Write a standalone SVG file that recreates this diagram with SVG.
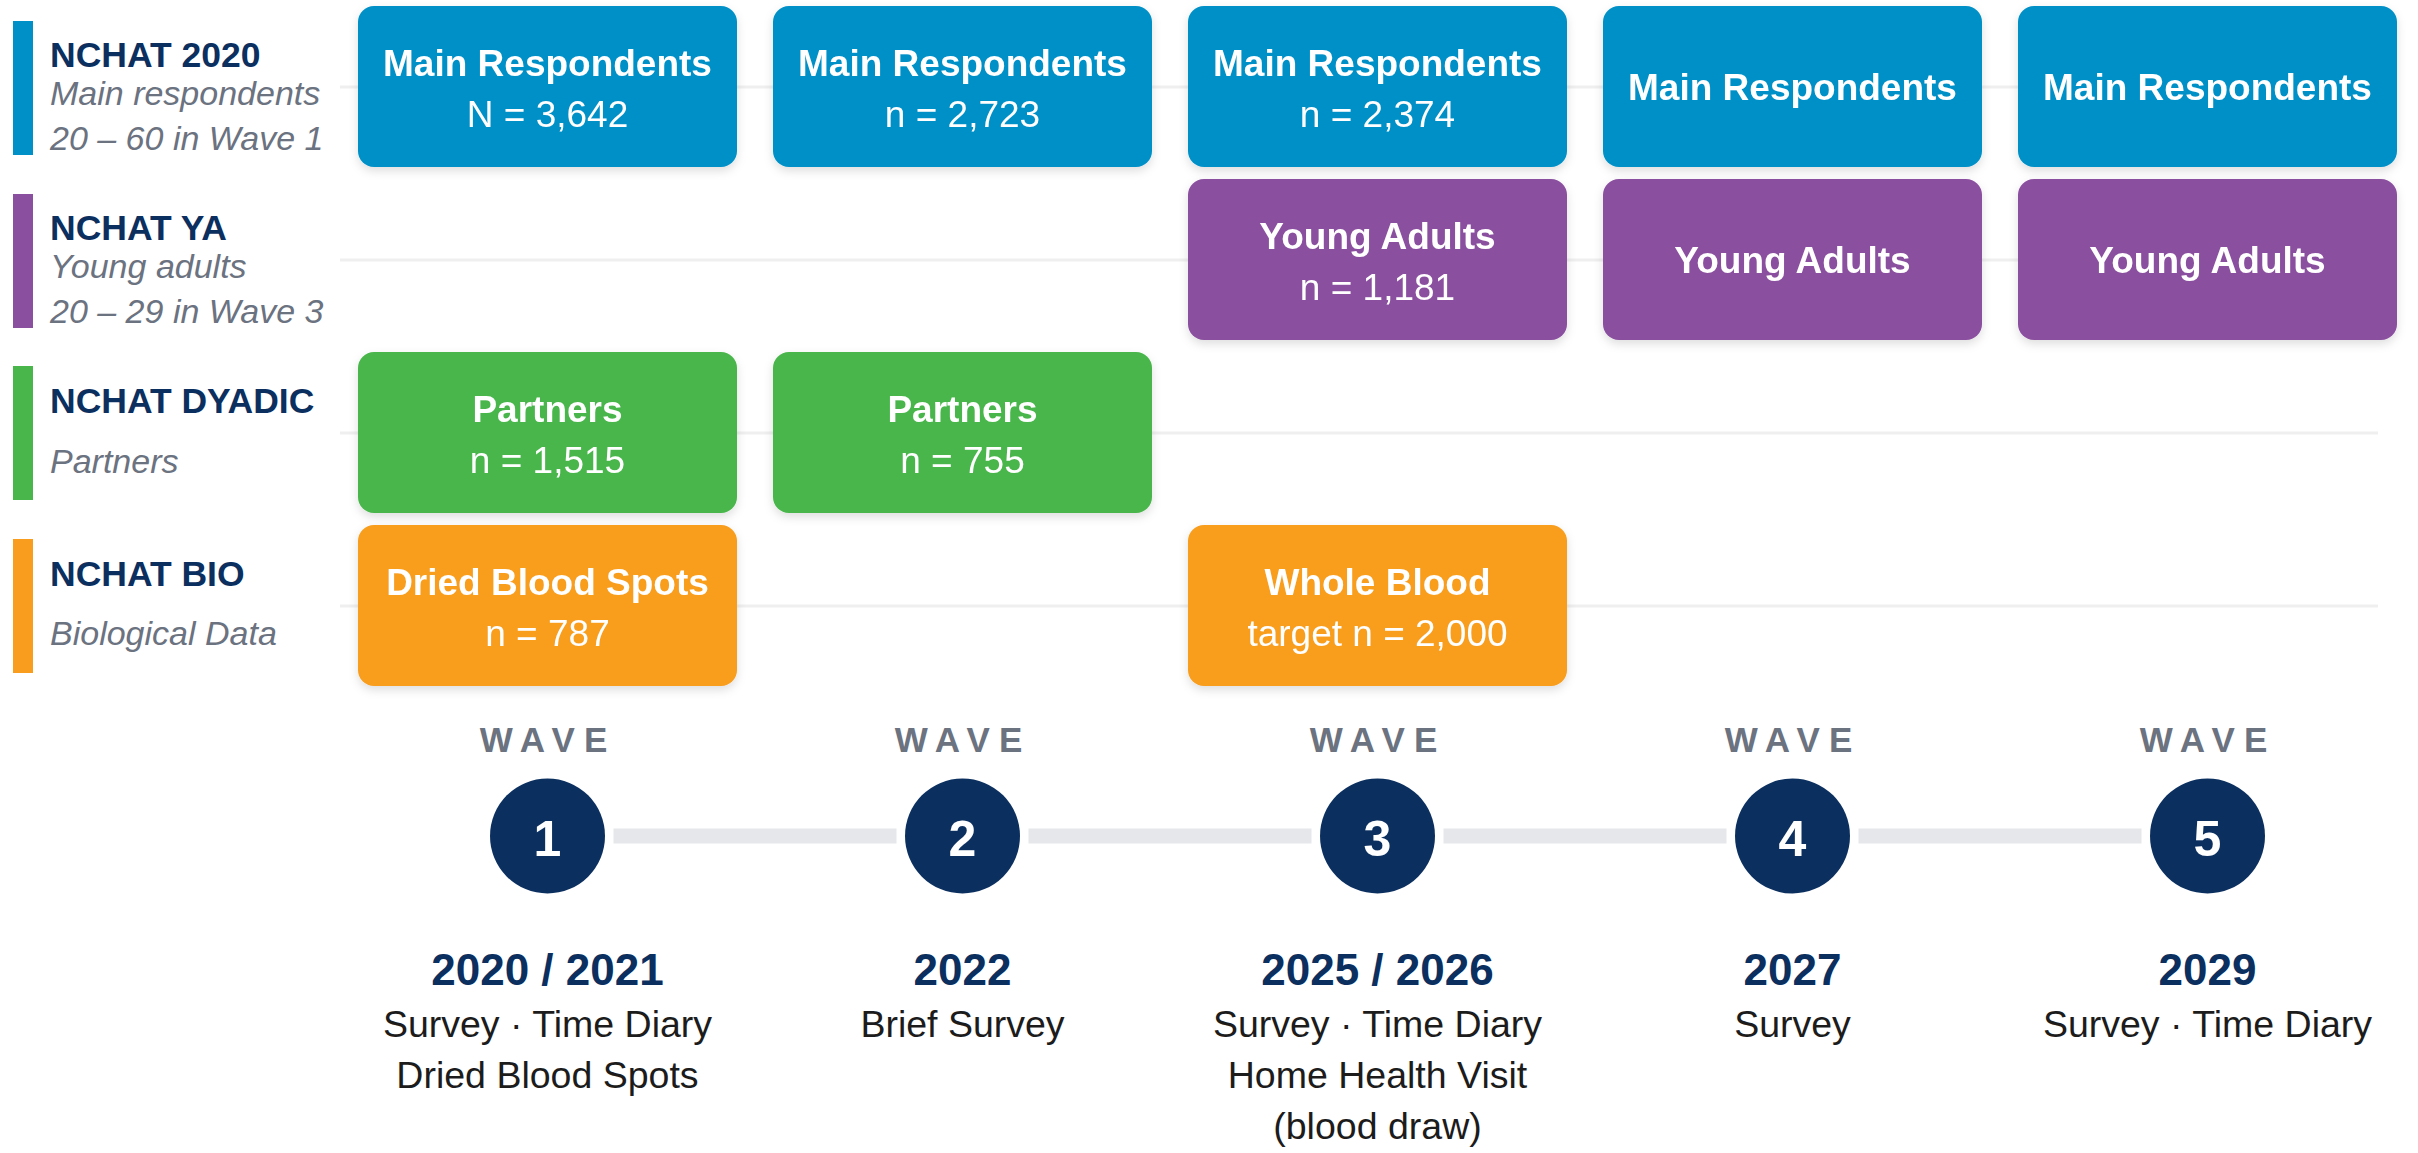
<svg xmlns="http://www.w3.org/2000/svg" width="2418" height="1153" viewBox="0 0 2418 1153">
  <defs>
    <filter id="shadow" x="-10%" y="-10%" width="120%" height="130%">
      <feDropShadow dx="0" dy="4" stdDeviation="5" flood-color="#000000" flood-opacity="0.13"/>
    </filter>
    <style>
      .box { filter: url(#shadow); }
      .blue { fill: #0090c8; }
      .purple { fill: #8a4f9f; }
      .green { fill: #49b64b; }
      .orange { fill: #f89d1e; }
      .bt { font-family: "Liberation Sans", Arial, sans-serif; font-size: 37px; font-weight: bold; fill: #ffffff; text-anchor: middle; }
      .bn { font-family: "Liberation Sans", Arial, sans-serif; font-size: 37px; fill: #ffffff; text-anchor: middle; }
      .lt { font-family: "Liberation Sans", Arial, sans-serif; font-size: 35.5px; font-weight: bold; fill: #0b2f5f; }
      .ls { font-family: "Liberation Sans", Arial, sans-serif; font-size: 34px; font-style: italic; fill: #6b7280; }
      .sep { stroke: #efefef; stroke-width: 3; fill: none; }
      .track { fill: #e5e7eb; }
      .wave { font-family: "Liberation Sans", Arial, sans-serif; font-size: 35px; font-weight: bold; fill: #6b7280; letter-spacing: 9px; text-anchor: middle; }
      .circ { fill: #0b2f5f; }
      .num { font-family: "Liberation Sans", Arial, sans-serif; font-size: 50px; font-weight: bold; fill: #ffffff; text-anchor: middle; }
      .yr { font-family: "Liberation Sans", Arial, sans-serif; font-size: 44px; font-weight: bold; fill: #0b2f5f; text-anchor: middle; }
      .desc { font-family: "Liberation Sans", Arial, sans-serif; font-size: 37.5px; fill: #1c1c1c; text-anchor: middle; }
    </style>
  </defs>
  <rect x="0" y="0" width="2418" height="1153" fill="#ffffff"/>

  <!-- row separator lines (background) -->
  <g id="row-lines">
    <line class="sep" x1="340" y1="87" x2="2378" y2="87"/>
    <line class="sep" x1="340" y1="260" x2="2378" y2="260"/>
    <line class="sep" x1="340" y1="433" x2="2378" y2="433"/>
    <line class="sep" x1="340" y1="606" x2="2378" y2="606"/>
  </g>

  <!-- left row labels -->
  <g id="label-nchat-2020">
    <rect x="13" y="21" width="20" height="134" class="blue"/>
    <text class="lt" x="50" y="67">NCHAT 2020</text>
    <text class="ls" x="50" y="105">Main respondents</text>
    <text class="ls" x="50" y="150">20 – 60 in Wave 1</text>
  </g>
  <g id="label-nchat-ya">
    <rect x="13" y="194" width="20" height="134" class="purple"/>
    <text class="lt" x="50" y="240">NCHAT YA</text>
    <text class="ls" x="50" y="278">Young adults</text>
    <text class="ls" x="50" y="323">20 – 29 in Wave 3</text>
  </g>
  <g id="label-nchat-dyadic">
    <rect x="13" y="366" width="20" height="134" class="green"/>
    <text class="lt" x="50" y="413">NCHAT DYADIC</text>
    <text class="ls" x="50" y="473">Partners</text>
  </g>
  <g id="label-nchat-bio">
    <rect x="13" y="539" width="20" height="134" class="orange"/>
    <text class="lt" x="50" y="586">NCHAT BIO</text>
    <text class="ls" x="50" y="645">Biological Data</text>
  </g>

  <!-- Row 1: Main respondents -->
  <g id="main-w1" class="box">
    <rect x="358" y="6" width="379" height="161" rx="16" class="blue"/>
    <text class="bt" x="547.5" y="76">Main Respondents</text>
    <text class="bn" x="547.5" y="127">N = 3,642</text>
  </g>
  <g id="main-w2" class="box">
    <rect x="773" y="6" width="379" height="161" rx="16" class="blue"/>
    <text class="bt" x="962.5" y="76">Main Respondents</text>
    <text class="bn" x="962.5" y="127">n = 2,723</text>
  </g>
  <g id="main-w3" class="box">
    <rect x="1188" y="6" width="379" height="161" rx="16" class="blue"/>
    <text class="bt" x="1377.5" y="76">Main Respondents</text>
    <text class="bn" x="1377.5" y="127">n = 2,374</text>
  </g>
  <g id="main-w4" class="box">
    <rect x="1603" y="6" width="379" height="161" rx="16" class="blue"/>
    <text class="bt" x="1792.5" y="100">Main Respondents</text>
  </g>
  <g id="main-w5" class="box">
    <rect x="2018" y="6" width="379" height="161" rx="16" class="blue"/>
    <text class="bt" x="2207.5" y="100">Main Respondents</text>
  </g>

  <!-- Row 2: Young adults -->
  <g id="ya-w3" class="box">
    <rect x="1188" y="179" width="379" height="161" rx="16" class="purple"/>
    <text class="bt" x="1377.5" y="249">Young Adults</text>
    <text class="bn" x="1377.5" y="300">n = 1,181</text>
  </g>
  <g id="ya-w4" class="box">
    <rect x="1603" y="179" width="379" height="161" rx="16" class="purple"/>
    <text class="bt" x="1792.5" y="273">Young Adults</text>
  </g>
  <g id="ya-w5" class="box">
    <rect x="2018" y="179" width="379" height="161" rx="16" class="purple"/>
    <text class="bt" x="2207.5" y="273">Young Adults</text>
  </g>

  <!-- Row 3: Partners -->
  <g id="partners-w1" class="box">
    <rect x="358" y="352" width="379" height="161" rx="16" class="green"/>
    <text class="bt" x="547.5" y="422">Partners</text>
    <text class="bn" x="547.5" y="473">n = 1,515</text>
  </g>
  <g id="partners-w2" class="box">
    <rect x="773" y="352" width="379" height="161" rx="16" class="green"/>
    <text class="bt" x="962.5" y="422">Partners</text>
    <text class="bn" x="962.5" y="473">n = 755</text>
  </g>

  <!-- Row 4: Bio -->
  <g id="bio-w1" class="box">
    <rect x="358" y="525" width="379" height="161" rx="16" class="orange"/>
    <text class="bt" x="547.5" y="595">Dried Blood Spots</text>
    <text class="bn" x="547.5" y="646">n = 787</text>
  </g>
  <g id="bio-w3" class="box">
    <rect x="1188" y="525" width="379" height="161" rx="16" class="orange"/>
    <text class="bt" x="1377.5" y="595">Whole Blood</text>
    <text class="bn" x="1377.5" y="646">target n = 2,000</text>
  </g>

  <!-- timeline connectors -->
  <g id="connectors">
    <rect class="track" x="613.5" y="828.5" width="283" height="15"/>
    <rect class="track" x="1028.5" y="828.5" width="283" height="15"/>
    <rect class="track" x="1443.5" y="828.5" width="283" height="15"/>
    <rect class="track" x="1858.5" y="828.5" width="283" height="15"/>
  </g>

  <!-- waves -->
  <g id="wave-1">
    <text class="wave" x="548" y="752">WAVE</text>
    <circle class="circ" cx="547.5" cy="836" r="57.5"/>
    <text class="num" x="547.5" y="856">1</text>
    <text class="yr" x="547.5" y="985">2020 / 2021</text>
    <text class="desc" x="547.5" y="1037">Survey · Time Diary</text>
    <text class="desc" x="547.5" y="1088">Dried Blood Spots</text>
  </g>
  <g id="wave-2">
    <text class="wave" x="963" y="752">WAVE</text>
    <circle class="circ" cx="962.5" cy="836" r="57.5"/>
    <text class="num" x="962.5" y="856">2</text>
    <text class="yr" x="962.5" y="985">2022</text>
    <text class="desc" x="962.5" y="1037">Brief Survey</text>
  </g>
  <g id="wave-3">
    <text class="wave" x="1378" y="752">WAVE</text>
    <circle class="circ" cx="1377.5" cy="836" r="57.5"/>
    <text class="num" x="1377.5" y="856">3</text>
    <text class="yr" x="1377.5" y="985">2025 / 2026</text>
    <text class="desc" x="1377.5" y="1037">Survey · Time Diary</text>
    <text class="desc" x="1377.5" y="1088">Home Health Visit</text>
    <text class="desc" x="1377.5" y="1139">(blood draw)</text>
  </g>
  <g id="wave-4">
    <text class="wave" x="1793" y="752">WAVE</text>
    <circle class="circ" cx="1792.5" cy="836" r="57.5"/>
    <text class="num" x="1792.5" y="856">4</text>
    <text class="yr" x="1792.5" y="985">2027</text>
    <text class="desc" x="1792.5" y="1037">Survey</text>
  </g>
  <g id="wave-5">
    <text class="wave" x="2208" y="752">WAVE</text>
    <circle class="circ" cx="2207.5" cy="836" r="57.5"/>
    <text class="num" x="2207.5" y="856">5</text>
    <text class="yr" x="2207.5" y="985">2029</text>
    <text class="desc" x="2207.5" y="1037">Survey · Time Diary</text>
  </g>
</svg>
